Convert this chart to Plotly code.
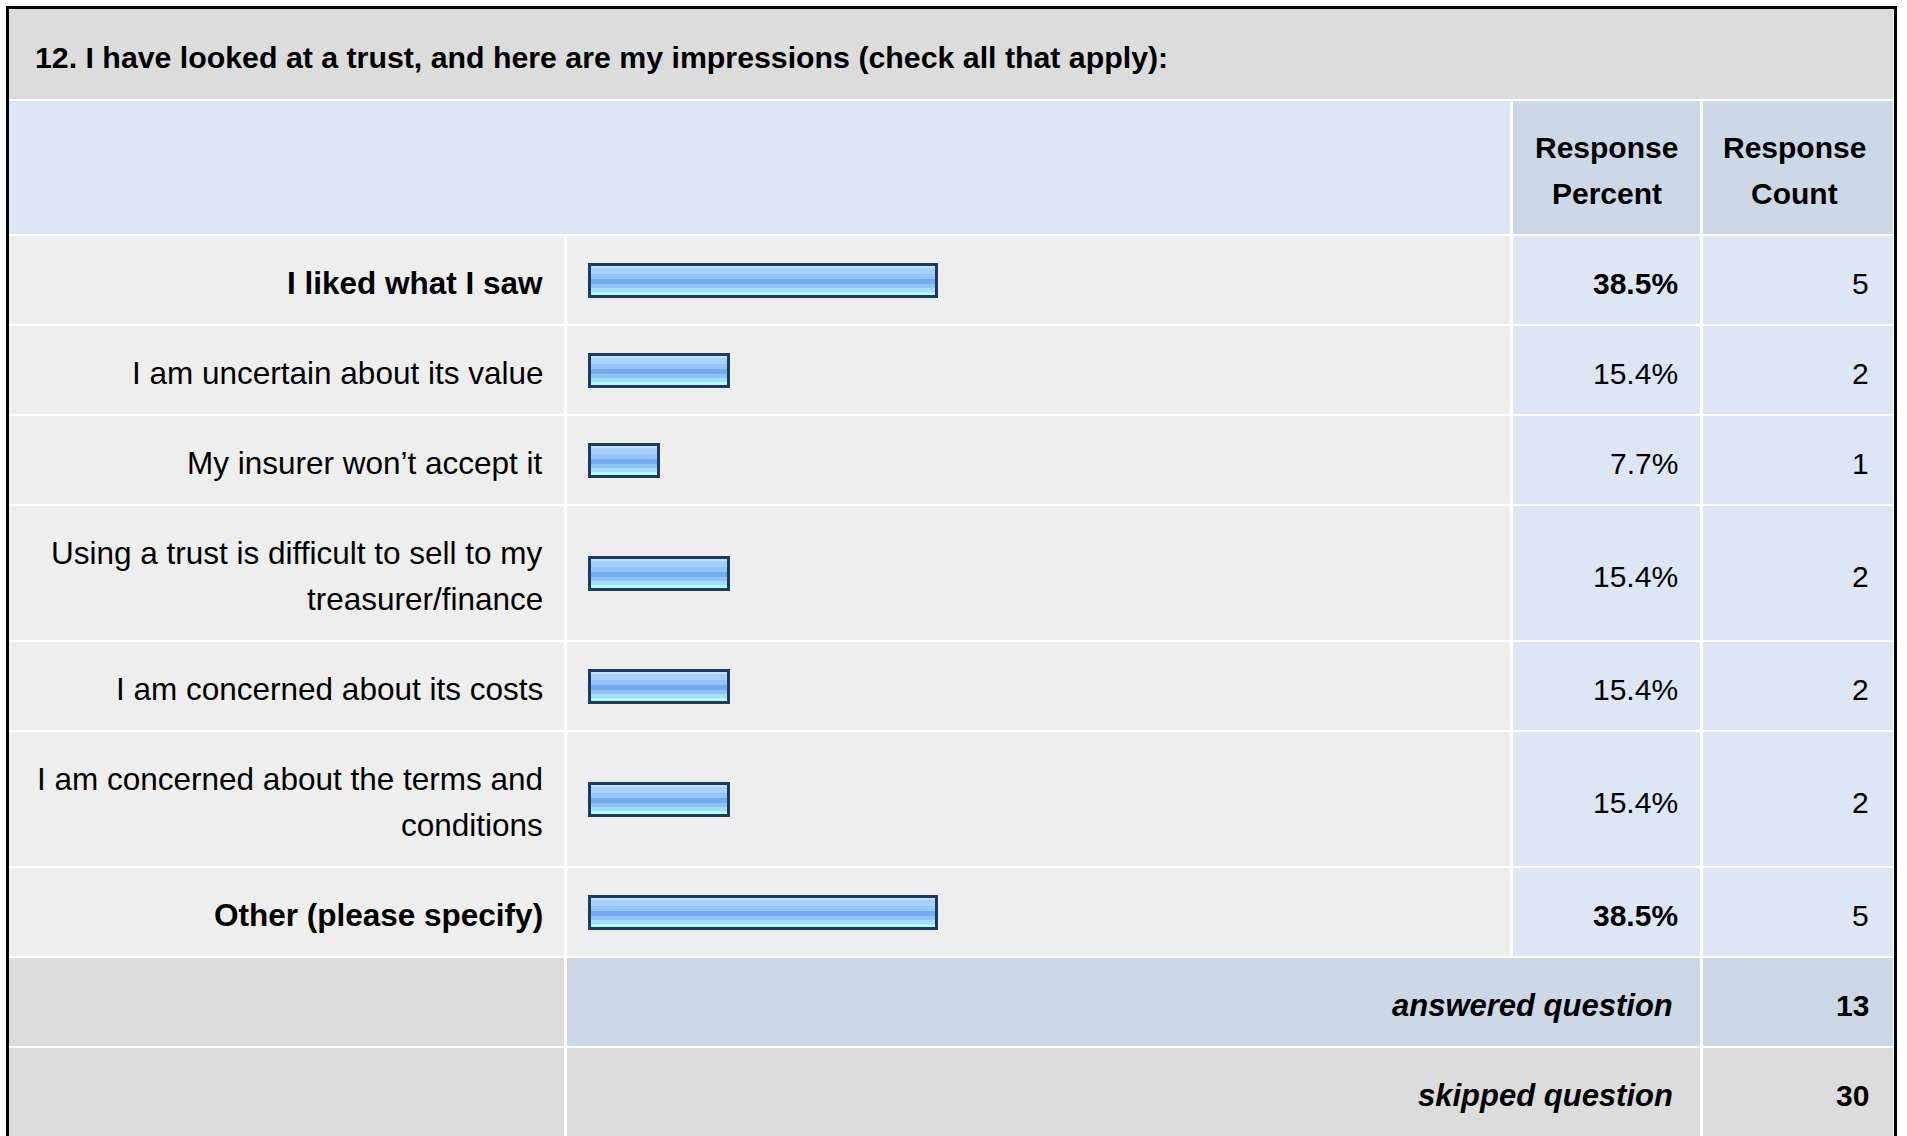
import plotly.graph_objects as go

# ---------------- data ----------------
question = "12. I have looked at a trust, and here are my impressions (check all that apply):"
answer_options = [
    "I liked what I saw",
    "I am uncertain about its value",
    "My insurer won’t accept it",
    "Using a trust is difficult to sell to my<br>treasurer/finance",
    "I am concerned about its costs",
    "I am concerned about the terms and<br>conditions",
    "Other (please specify)",
]
response_percent = [38.5, 15.4, 7.7, 15.4, 15.4, 15.4, 38.5]
response_count = [5, 2, 1, 2, 2, 2, 5]
header_labels = ["Response<br>Percent", "Response<br>Count"]
summary_labels = ["answered question", "skipped question"]
summary_values = [13, 30]

# ---------------- layout / style constants ----------------
W, H = 1907, 1136
FONT = "Liberation Sans, Arial, Helvetica, sans-serif"
BLACK = "#000000"
C_TITLE = "#DCDCDC"
C_HEAD = "#DCE6F4"
C_HEAD_DARK = "#CCD8E6"
C_CELL = "#EEEEEE"
C_VAL = "#DCE6F4"
C_SKIP = "#DCDCDC"

# column cells (x0, x1)
COL_LABEL = (9, 564)
COL_BAR = (567, 1510)
COL_PCT = (1513, 1700)
COL_CNT = (1703, 1893)
TABLE_X = (9, 1893)

LINE_H = 46          # text line pitch
ROW_BASE = 44        # row pitch = ROW_BASE + LINE_H * lines
GAP = 2
TITLE_PITCH = 92
TEXT_DY = 3

BAR_ZERO_PX = 590    # where 0 % sits
BAR_PX_PER_PCT = 9.0
BAR_INNER = 32
STRIPES = [(0, 3, "#C2E2FF"), (3, 9, "#A6D1FF"), (9, 14, "#94C4F9"),
           (14, 19, "#74AAF0"), (19, 23, "#8EC3F6"), (23, 27, "#A3DDFB"),
           (27, 32, "#B0FFFF")]
BAR_EDGE = "#1F3A5C"

LABEL_SIZE = 31.5
VALUE_SIZE = 30
SUMMARY_SIZE = 31
TITLE_SIZE = 30.3

# ---------------- geometry from data ----------------
def n_lines(s):
    return s.count("<br>") + 1

top = 9
title_row = (top, top + TITLE_PITCH - GAP)
top += TITLE_PITCH
head_pitch = ROW_BASE + LINE_H * max(n_lines(h) for h in header_labels) - 1
head_row = (top, top + head_pitch - GAP)
top += head_pitch
body_rows = []
for lab in answer_options:
    p = ROW_BASE + LINE_H * n_lines(lab)
    body_rows.append((top, top + p - GAP))
    top += p
summary_rows = []
for lab in summary_labels:
    p = ROW_BASE + LINE_H * n_lines(lab)
    summary_rows.append((top, top + p - GAP))
    top += p

shapes = []
annotations = []

def rect(x, y, color):
    shapes.append(dict(type="rect", xref="x", yref="y", x0=x[0], x1=x[1],
                       y0=y[0], y1=y[1], fillcolor=color, line_width=0,
                       layer="below"))

def text(s, x, row, anchor, size, bold=False, italic=False):
    lines = s.split("<br>")
    c = (row[0] + row[1]) / 2 + TEXT_DY
    n = len(lines)
    for i, ln in enumerate(lines):
        y = c + (i - (n - 1) / 2) * LINE_H
        annotations.append(dict(
            text=ln, x=x, y=y, xref="x", yref="y", xanchor=anchor,
            yanchor="middle", showarrow=False,
            font=dict(family=FONT, size=size, color=BLACK,
                      weight="bold" if bold else "normal",
                      style="italic" if italic else "normal")))

# title row
rect(TABLE_X, title_row, C_TITLE)
text(question, 33, title_row, "left", TITLE_SIZE, bold=True)

# header row
rect((COL_LABEL[0], COL_BAR[1]), head_row, C_HEAD)
rect(COL_PCT, head_row, C_HEAD_DARK)
rect(COL_CNT, head_row, C_HEAD_DARK)
text(header_labels[0], sum(COL_PCT) / 2, head_row, "center", VALUE_SIZE, bold=True)
text(header_labels[1], sum(COL_CNT) / 2 - 4, head_row, "center", VALUE_SIZE, bold=True)

pmax = max(response_percent)
for lab, pct, cnt, row in zip(answer_options, response_percent, response_count, body_rows):
    is_top = pct == pmax
    rect(COL_LABEL, row, C_CELL)
    rect(COL_BAR, row, C_CELL)
    rect(COL_PCT, row, C_VAL)
    rect(COL_CNT, row, C_VAL)
    text(lab, COL_LABEL[1] - 19, row, "right", LABEL_SIZE, bold=is_top)
    text(f"{pct:.1f}%", COL_PCT[1] - 20, row, "right", VALUE_SIZE, bold=is_top)
    text(str(cnt), COL_CNT[1] - 22, row, "right", VALUE_SIZE)

# summary rows
for k, (lab, val, row) in enumerate(zip(summary_labels, summary_values, summary_rows)):
    rect(COL_LABEL, row, C_SKIP)
    if k == 0:
        rect((COL_BAR[0], COL_PCT[1]), row, C_HEAD_DARK)
        rect(COL_CNT, row, C_HEAD_DARK)
    else:
        rect((COL_BAR[0], COL_PCT[1]), row, C_SKIP)
        rect(COL_CNT, row, C_SKIP)
    text(lab, COL_PCT[1] - 25, row, "right", SUMMARY_SIZE, bold=True, italic=True)
    text(str(val), COL_CNT[1] - 22, row, "right", VALUE_SIZE, bold=True)

# outer frame
shapes.append(dict(type="rect", xref="x", yref="y", x0=7.5, x1=1895.5,
                   y0=7.5, y1=H + 5, line=dict(color=BLACK, width=3),
                   fillcolor="rgba(0,0,0,0)", layer="above"))

# ---------------- bars ----------------
centers = [(r[0] + r[1]) / 2 + 1 for r in body_rows]
fig = go.Figure()
for a, b, col in STRIPES:
    off = (a + b) / 2 - BAR_INNER / 2
    fig.add_trace(go.Bar(
        x=response_percent, y=[c + off for c in centers], base=0,
        orientation="h", width=b - a, xaxis="x2", yaxis="y",
        marker=dict(color=col, line=dict(width=0)),
        hoverinfo="skip", showlegend=False))
fig.add_trace(go.Bar(
    x=response_percent, y=centers, base=0, orientation="h",
    width=BAR_INNER + 0.5, xaxis="x2", yaxis="y",
    marker=dict(color="rgba(0,0,0,0)", line=dict(color=BAR_EDGE, width=3)),
    hoverinfo="skip", showlegend=False))

x2_range = [(COL_BAR[0] - BAR_ZERO_PX) / BAR_PX_PER_PCT,
            (COL_BAR[1] - BAR_ZERO_PX) / BAR_PX_PER_PCT]

fig.update_layout(
    width=W, height=H,
    margin=dict(l=0, r=0, t=0, b=0, pad=0),
    paper_bgcolor="white", plot_bgcolor="rgba(0,0,0,0)",
    barmode="overlay", bargap=0,
    xaxis=dict(range=[0, W], domain=[0, 1], visible=False, fixedrange=True),
    yaxis=dict(range=[H, 0], domain=[0, 1], visible=False, fixedrange=True),
    xaxis2=dict(range=x2_range, domain=[COL_BAR[0] / W, COL_BAR[1] / W],
                anchor="y", visible=False, fixedrange=True),
    shapes=shapes, annotations=annotations,
    showlegend=False,
)

fig.write_html("out.html", config={"displayModeBar": False},
               post_script="document.body.style.margin='0';document.body.style.overflow='hidden';")
